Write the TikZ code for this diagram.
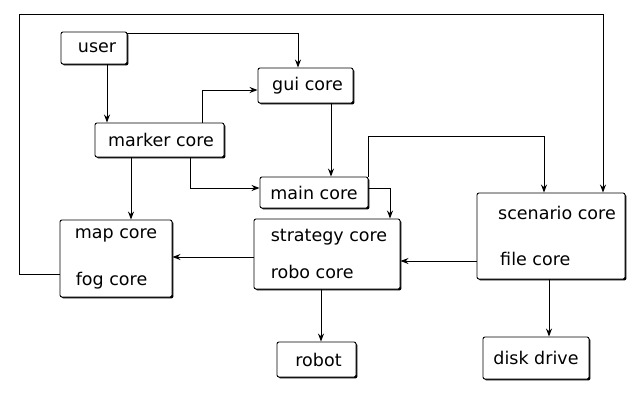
\documentclass[tikz,border=0pt]{standalone}
\usepackage{fontspec}
\setmainfont{DejaVu Sans}
\usetikzlibrary{calc,arrows.meta,shadows}
\begin{document}
\begin{tikzpicture}[x=1pt,y=-1pt,
  box/.style={draw,fill=white,line width=0.9pt,rounded corners=2pt,inner sep=0pt,
    font=\fontsize{17.5}{21}\selectfont,
    drop shadow={shadow xshift=1.4pt,shadow yshift=-1.4pt,fill=black,opacity=1}},
  multibox/.style={box,align=left},
  arr/.style={line width=1pt,-{Stealth[length=8pt,width=6pt]}}]
\useasboundingbox[fill=white] (0,0) rectangle (640,400);
% boxes
\node[box,minimum width=66,minimum height=32] (user) at (94,48) {\hspace*{6pt}user};
\node[box,minimum width=95,minimum height=35] (gui) at (305.5,85.5) {\hspace*{4pt}gui core};
\node[box,minimum width=129,minimum height=34] (marker) at (159.5,140) {\hspace*{3pt}marker core};
\node[box,minimum width=108,minimum height=31] (main) at (314,192.5) {main core};
\node[multibox,minimum width=146,minimum height=70] (strat) at (327,254)
  {\hspace*{4pt}strategy core\\[16pt]\hspace*{4pt}robo core};
\node[multibox,minimum width=112,minimum height=77] (map) at (116,258.5)
  {map core\\[26pt]\hspace*{1pt}fog core};
\node[multibox,minimum width=148,minimum height=86] (scen) at (551,236)
  {\hspace*{12pt}scenario core\\[25pt]\hspace*{14pt}file core};
\node[box,minimum width=79,minimum height=35] (robot) at (316.5,359.5) {\hspace*{4pt}robot};
\node[box,minimum width=106,minimum height=42] (disk) at (536,358) {disk drive};
% waypoints
\coordinate (u0) at ($(user.north east)+(0,2)$);
\coordinate (g0) at ($(gui.north)+(-7.5,0)$);
\coordinate (u1) at ($(user.south)+(13,0)$);
\coordinate (m1) at ($(marker.north)+(42.5,0)$);
\coordinate (g1) at ($(gui.west)+(0,4.5)$);
\coordinate (m2) at ($(marker.south)+(30.5,0)$);
\coordinate (mn1) at ($(main.west)+(0,-4.5)$);
\coordinate (m3) at ($(marker.south)+(-28.5,0)$);
\coordinate (g2) at ($(gui.south)+(25.5,0)$);
\coordinate (mn2) at ($(main.north east)+(0.5,-40)$);
\coordinate (sc1) at ($(scen.north)+(-7,0)$);
\coordinate (mn3) at ($(main.east)+(0,-4.5)$);
\coordinate (st1) at ($(strat.north)+(63,0)$);
\coordinate (st2) at ($(strat.west)+(0,3)$);
\coordinate (fc1) at ($(scen.west)+(0,25)$);
\coordinate (st3) at ($(strat.south)+(-6,0)$);
\coordinate (fc2) at ($(scen.south)+(-2,0)$);
\coordinate (fg1) at ($(map.west)+(0,15.5)$);
\coordinate (tl) at ($(map.west)+(-40,-244.5)$);
\coordinate (sc2) at ($(scen.north)+(52,0)$);
% connectors
\draw[arr] (u0) -| (g0);
\draw[arr] (u1) -- (u1 |- marker.north);
\draw[arr] (m1) |- (g1);
\draw[arr] (m2) |- (mn1);
\draw[arr] (m3) -- (m3 |- map.north);
\draw[arr] (g2) -- (g2 |- main.north);
\draw[arr] ($(main.north east)+(0.5,0)$) -- (mn2) -| (sc1);
\draw[arr] (mn3) -| (st1);
\draw[arr] (st2) -- (st2 -| map.east);
\draw[arr] (fc1) -- (fc1 -| strat.east);
\draw[arr] (st3) -- (st3 |- robot.north);
\draw[arr] (fc2) -- (fc2 |- disk.north);
\draw[arr] (fg1) -| (tl) -| (sc2);
\end{tikzpicture}
\end{document}
